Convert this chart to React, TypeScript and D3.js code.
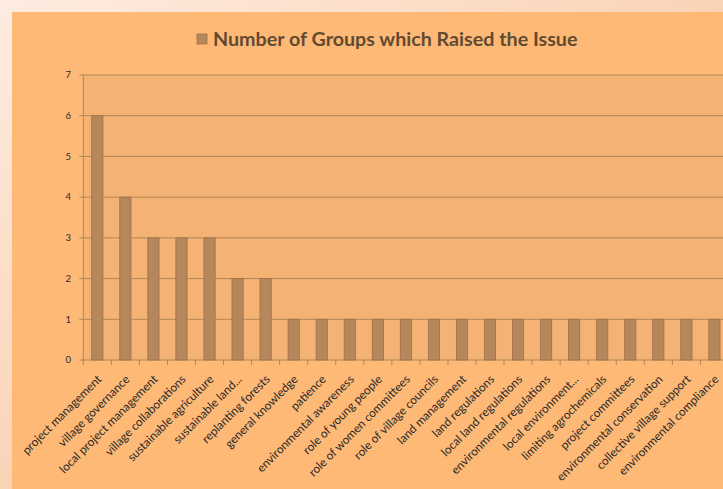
import React from "react";
import * as d3 from "d3";

const categories = [
  "project management",
  "village governance",
  "local project management",
  "village collaborations",
  "sustainable agriculture",
  "sustainable land...",
  "replanting forests",
  "general knowledge",
  "patience",
  "environmental awareness",
  "role of young people",
  "role of women committees",
  "role of village councils",
  "land management",
  "land regulations",
  "local land regulations",
  "environmental regulations",
  "local environment...",
  "limiting agrochemicals",
  "project committees",
  "environmental conservation",
  "collective village support",
  "environmental compliance",
];
const values = [6, 4, 3, 3, 3, 2, 2, 1, 1, 1, 1, 1, 1, 1, 1, 1, 1, 1, 1, 1, 1, 1, 1];
const yTicks = [0, 1, 2, 3, 4, 5, 6, 7];
const seriesName = "Number of Groups which Raised the Issue";

const W = 723;
const H = 489;

export default function App() {
  const x0 = 83.3;
  const band = 28.05;
  const x = d3
    .scaleBand<string>()
    .domain(categories)
    .range([x0, x0 + band * categories.length])
    .paddingInner(0.6)
    .paddingOuter(0.3);
  const y = d3.scaleLinear().domain([0, 7]).range([360, 75]);
  const font = "Lato, 'Open Sans', sans-serif";
  const grid = "#b08656";
  return (
    <svg
      width={W}
      height={H}
      style={{ position: "absolute", left: 0, top: 0 }}
    >
      <defs>
        <linearGradient id="bg" x1="0" y1="0" x2="1" y2="1">
          <stop offset="0" stopColor="#feece1" />
          <stop offset="1" stopColor="#f7bb8c" />
        </linearGradient>
      </defs>
      <rect x={0} y={0} width={W} height={H} fill="url(#bg)" />
      <rect x={12} y={12} width={W - 12} height={H - 12} fill="#ffb976" />
      {/* plot area */}
      <rect
        x={x0}
        y={y(7)}
        width={W - x0}
        height={y(0) - y(7)}
        fill="#f4b375"
      />
      {/* gridlines */}
      {yTicks.map((t) => (
        <g key={t}>
          <line
            x1={x0 - 4}
            x2={W}
            y1={y(t)}
            y2={y(t)}
            stroke={grid}
            strokeWidth={1}
          />
          <text
            x={71}
            y={y(t)}
            dy="0.35em"
            textAnchor="end"
            fontFamily={font}
            fontSize={9.5}
            fill="#2a2a2a"
          >
            {t}
          </text>
        </g>
      ))}
      {/* y axis */}
      <line x1={x0} x2={x0} y1={y(7)} y2={y(0)} stroke={grid} />
      {/* bars */}
      {categories.map((c, i) => (
        <rect
          key={c}
          x={x(c)!}
          y={y(values[i])}
          width={x.bandwidth()}
          height={y(0) - y(values[i])}
          fill="#b5875a"
          stroke="#9e7047"
          strokeWidth={0.8}
        />
      ))}
      {/* x ticks */}
      {categories.map((c, i) => (
        <line
          key={"t" + c}
          x1={x0 + band * i}
          x2={x0 + band * i}
          y1={y(0)}
          y2={y(0) + 5}
          stroke={grid}
        />
      ))}
      {/* x labels */}
      {categories.map((c) => {
        const cx = x(c)! + x.bandwidth() / 2 + 5;
        const cy = y(0) + 20;
        return (
          <text
            key={"l" + c}
            transform={`translate(${cx},${cy}) rotate(-45)`}
            textAnchor="end"
            fontFamily={font}
            fontSize={11.8}
            fill="#2a2a2a"
          >
            {c}
          </text>
        );
      })}
      {/* title with legend key */}
      <rect
        x={197}
        y={34}
        width={10}
        height={10}
        fill="#b5875a"
        stroke="#9e7047"
        strokeWidth={0.8}
      />
      <text
        x={213}
        y={46}
        fontFamily={font}
        fontWeight="bold"
        fontSize={19.7}
        fill="#624a32"
      >
        {seriesName}
      </text>
    </svg>
  );
}
